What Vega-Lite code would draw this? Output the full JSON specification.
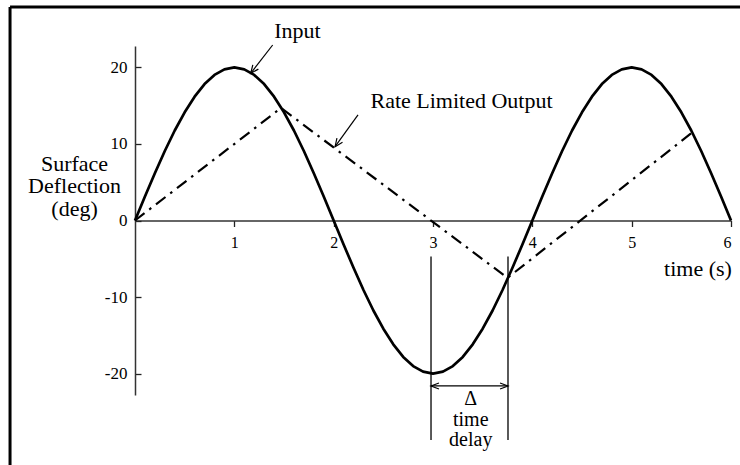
{
  "$schema": "https://vega.github.io/schema/vega-lite/v6.json",
  "width": 596,
  "height": 349,
  "autosize": {"type": "none"},
  "padding": {"left": 135, "top": 46, "right": 9, "bottom": 70},
  "background": "white",
  "config": {
    "view": {"stroke": null},
    "font": "Liberation Serif",
    "axis": {
      "grid": false,
      "title": null,
      "domainColor": "#333333",
      "domainWidth": 1.5,
      "tickColor": "#222222",
      "tickWidth": 1.3,
      "labelFont": "Liberation Serif",
      "labelColor": "black",
      "labelExpr": "'' + datum.value"
    }
  },
  "datasets": {
    "input": [
      {"t": 0.0, "v": 0}, {"t": 0.1, "v": 3.13}, {"t": 0.2, "v": 6.18}, {"t": 0.3, "v": 9.08},
      {"t": 0.4, "v": 11.76}, {"t": 0.5, "v": 14.14}, {"t": 0.6, "v": 16.18}, {"t": 0.7, "v": 17.82},
      {"t": 0.8, "v": 19.02}, {"t": 0.9, "v": 19.75}, {"t": 1.0, "v": 20}, {"t": 1.1, "v": 19.75},
      {"t": 1.2, "v": 19.02}, {"t": 1.3, "v": 17.82}, {"t": 1.4, "v": 16.18}, {"t": 1.5, "v": 14.14},
      {"t": 1.6, "v": 11.76}, {"t": 1.7, "v": 9.08}, {"t": 1.8, "v": 6.18}, {"t": 1.9, "v": 3.13},
      {"t": 2.0, "v": 0}, {"t": 2.1, "v": -3.13}, {"t": 2.2, "v": -6.18}, {"t": 2.3, "v": -9.08},
      {"t": 2.4, "v": -11.76}, {"t": 2.5, "v": -14.14}, {"t": 2.6, "v": -16.18}, {"t": 2.7, "v": -17.82},
      {"t": 2.8, "v": -19.02}, {"t": 2.9, "v": -19.75}, {"t": 3.0, "v": -20}, {"t": 3.1, "v": -19.75},
      {"t": 3.2, "v": -19.02}, {"t": 3.3, "v": -17.82}, {"t": 3.4, "v": -16.18}, {"t": 3.5, "v": -14.14},
      {"t": 3.6, "v": -11.76}, {"t": 3.7, "v": -9.08}, {"t": 3.8, "v": -6.18}, {"t": 3.9, "v": -3.13},
      {"t": 4.0, "v": 0}, {"t": 4.1, "v": 3.13}, {"t": 4.2, "v": 6.18}, {"t": 4.3, "v": 9.08},
      {"t": 4.4, "v": 11.76}, {"t": 4.5, "v": 14.14}, {"t": 4.6, "v": 16.18}, {"t": 4.7, "v": 17.82},
      {"t": 4.8, "v": 19.02}, {"t": 4.9, "v": 19.75}, {"t": 5.0, "v": 20}, {"t": 5.1, "v": 19.75},
      {"t": 5.2, "v": 19.02}, {"t": 5.3, "v": 17.82}, {"t": 5.4, "v": 16.18}, {"t": 5.5, "v": 14.14},
      {"t": 5.6, "v": 11.76}, {"t": 5.7, "v": 9.08}, {"t": 5.8, "v": 6.18}, {"t": 5.9, "v": 3.13},
      {"t": 6.0, "v": 0}
    ],
    "output": [
      {"t": 0, "v": 0},
      {"t": 1.47, "v": 14.7},
      {"t": 3.75, "v": -7.5},
      {"t": 5.6, "v": 11.4}
    ],
    "frame": [
      {"t": -1.258, "t2": 6.1, "v": 27.9, "v2": 27.9},
      {"t": -1.258, "t2": -1.258, "v": 27.9, "v2": -32}
    ],
    "delay": [
      {"t": 2.98, "v": -4.7, "v2": -28.68},
      {"t": 3.755, "v": -4.7, "v2": -28.68}
    ],
    "arrows": [
      {"id": "in", "k": 0, "t": 1.386, "v": 22.93},
      {"id": "in", "k": 1, "t": 1.165, "v": 19.23},
      {"id": "inH", "k": 0, "t": 1.242, "v": 19.78},
      {"id": "inH", "k": 1, "t": 1.165, "v": 19.23},
      {"id": "inH", "k": 2, "t": 1.186, "v": 20.34},
      {"id": "out", "k": 0, "t": 2.245, "v": 13.79},
      {"id": "out", "k": 1, "t": 2.014, "v": 9.64},
      {"id": "outH", "k": 0, "t": 2.089, "v": 10.22},
      {"id": "outH", "k": 1, "t": 2.014, "v": 9.64},
      {"id": "outH", "k": 2, "t": 2.033, "v": 10.75},
      {"id": "d", "k": 0, "t": 2.98, "v": -21.62},
      {"id": "d", "k": 1, "t": 3.755, "v": -21.62},
      {"id": "dL", "k": 0, "t": 3.06, "v": -21.23},
      {"id": "dL", "k": 1, "t": 2.98, "v": -21.62},
      {"id": "dL", "k": 2, "t": 3.06, "v": -22.01},
      {"id": "dR", "k": 0, "t": 3.675, "v": -21.23},
      {"id": "dR", "k": 1, "t": 3.755, "v": -21.62},
      {"id": "dR", "k": 2, "t": 3.675, "v": -22.01}
    ],
    "labels": [
      {"label": "Input", "t": 1.636, "v": 23.85, "size": 22},
      {"label": "Rate Limited Output", "t": 3.287, "v": 14.66, "size": 22},
      {"label": "Surface", "t": -0.609, "v": 6.51, "size": 22},
      {"label": "Deflection", "t": -0.609, "v": 3.555, "size": 22},
      {"label": "(deg)", "t": -0.609, "v": 0.59, "size": 22},
      {"label": "Δ", "t": 3.38, "v": -24.1, "size": 20},
      {"label": "time", "t": 3.38, "v": -26.85, "size": 20},
      {"label": "delay", "t": 3.38, "v": -29.46, "size": 20},
      {"label": "time (s)", "t": 5.668, "v": -7.2, "size": 22}
    ]
  },
  "encoding": {
    "x": {
      "field": "t",
      "type": "quantitative",
      "scale": {"domain": [0, 6], "nice": false, "zero": false},
      "axis": {"values": [1, 2, 3, 4, 5, 6], "offset": -174.5, "tickSize": 6, "labelPadding": 8, "labelFontSize": 16}
    },
    "y": {
      "field": "v",
      "type": "quantitative",
      "scale": {"domain": [-22.8, 22.8], "nice": false, "zero": false},
      "axis": {"values": [-20, -10, 0, 10, 20], "tickSize": -6, "labelPadding": 14, "labelFontSize": 17}
    }
  },
  "layer": [
    {
      "data": {"name": "frame"},
      "mark": {"type": "rule", "stroke": "black", "strokeWidth": 3},
      "encoding": {"x2": {"field": "t2"}, "y2": {"field": "v2"}}
    },
    {
      "data": {"name": "delay"},
      "mark": {"type": "rule", "stroke": "black", "strokeWidth": 1.3},
      "encoding": {"y2": {"field": "v2"}}
    },
    {
      "data": {"name": "output"},
      "mark": {"type": "line", "stroke": "black", "strokeWidth": 2.2, "strokeDash": [12, 6, 2.5, 6]},
      "encoding": {}
    },
    {
      "data": {"name": "input"},
      "mark": {"type": "line", "stroke": "black", "strokeWidth": 2.7, "strokeJoin": "round"},
      "encoding": {}
    },
    {
      "data": {"name": "arrows"},
      "mark": {"type": "line", "stroke": "black", "strokeWidth": 1.2},
      "encoding": {"detail": {"field": "id"}, "order": {"field": "k"}}
    },
    {
      "data": {"name": "labels"},
      "mark": {"type": "text", "font": "Liberation Serif", "align": "center", "baseline": "alphabetic", "color": "black"},
      "encoding": {
        "text": {"field": "label"},
        "size": {"field": "size", "type": "quantitative", "scale": null}
      }
    }
  ]
}
